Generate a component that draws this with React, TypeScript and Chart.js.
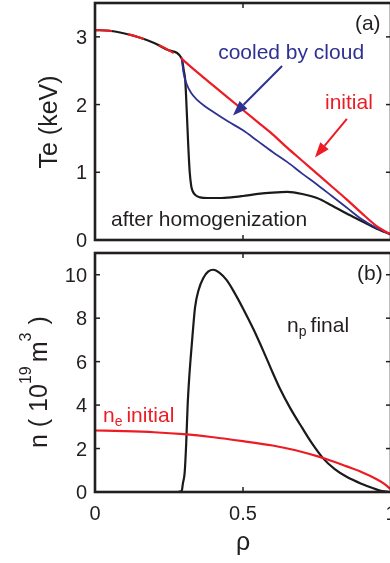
import React, { useEffect, useRef } from 'react';
import { Chart, registerables } from 'chart.js';

Chart.register(...registerables);

// ---------- data (panel a: electron temperature, keV) ----------
const teInitialRho = [0, 0.05, 0.1, 0.15, 0.2, 0.25, 0.29, 0.3, 0.35, 0.4, 0.45, 0.5, 0.55, 0.6, 0.65, 0.7, 0.75, 0.8, 0.85, 0.9, 0.95, 0.975, 1.0];
const teInitial = [3.1, 3.09, 3.05, 2.99, 2.91, 2.8, 2.69, 2.65, 2.46, 2.28, 2.1, 1.92, 1.74, 1.56, 1.36, 1.17, 0.98, 0.79, 0.6, 0.4, 0.21, 0.14, 0.08];

const teCooledRho = [0.293, 0.3, 0.31, 0.325, 0.345, 0.37, 0.4, 0.45, 0.5, 0.55, 0.6, 0.65, 0.7, 0.75, 0.8, 0.85, 0.9, 0.95, 1.0];
const teCooled = [2.68, 2.45, 2.3, 2.17, 2.07, 1.98, 1.89, 1.75, 1.62, 1.46, 1.3, 1.15, 0.98, 0.82, 0.65, 0.48, 0.31, 0.18, 0.08];

const teAfterRho = [0, 0.05, 0.1, 0.15, 0.2, 0.25, 0.293, 0.3, 0.305, 0.31, 0.315, 0.32, 0.325, 0.33, 0.34, 0.355, 0.38, 0.42, 0.46, 0.5, 0.55, 0.6, 0.65, 0.7, 0.75, 0.8, 0.85, 0.9, 0.95, 1.0];
const teAfter = [3.1, 3.09, 3.05, 2.99, 2.91, 2.8, 2.68, 2.5, 2.35, 1.9, 1.4, 1.0, 0.8, 0.72, 0.66, 0.63, 0.62, 0.62, 0.63, 0.65, 0.68, 0.7, 0.71, 0.68, 0.62, 0.51, 0.39, 0.28, 0.17, 0.08];

// ---------- data (panel b: density, 1e19 m^-3) ----------
const neRho = [0, 0.1, 0.2, 0.3, 0.4, 0.5, 0.6, 0.65, 0.7, 0.75, 0.8, 0.85, 0.9, 0.95, 0.975, 1.0];
const neInitial = [2.83, 2.8, 2.75, 2.66, 2.52, 2.34, 2.14, 2.0, 1.84, 1.65, 1.43, 1.18, 0.92, 0.6, 0.4, 0.12];

const npRho = [0, 0.1, 0.2, 0.28, 0.293, 0.297, 0.303, 0.308, 0.313, 0.318, 0.324, 0.33, 0.338, 0.35, 0.366, 0.383, 0.4, 0.42, 0.445, 0.47, 0.5, 0.535, 0.57, 0.6, 0.625, 0.66, 0.7, 0.735, 0.77, 0.81, 0.85, 0.9, 0.94, 0.97, 1.0];
const npFinal = [0, 0, 0, 0, 0.05, 0.4, 0.9, 2.2, 4.0, 5.2, 6.3, 7.3, 8.5, 9.3, 9.85, 10.15, 10.23, 10.1, 9.75, 9.2, 8.45, 7.5, 6.45, 5.5, 4.75, 3.85, 2.95, 2.2, 1.56, 1.05, 0.7, 0.38, 0.17, 0.04, 0];

// ---------- ticks ----------
const rhoTicks = [0, 0.5, 1];
const rhoTickLabels = ['0', '0.5', '1'];
const teTicks = [0, 1, 2, 3];
const nTicks = [0, 2, 4, 6, 8, 10];

const RED = '#ed1c24';
const BLUE = '#2e3192';
const BLACK = '#1a1a1a';
const TEXT = '#231f20';
const FONT = '"Liberation Sans", Arial, Helvetica, sans-serif';
const TICK = 5;

const pts = (xs: number[], ys: number[]) => xs.map((x, i) => ({ x, y: ys[i] }));

type Note = { parts: { t: string; sub?: boolean }[]; x: number; y: number; color: string };
type Arrow = { x0: number; y0: number; x1: number; y1: number; color: string };

function overlay(cfg: {
  id: string;
  yTicks: number[];
  xLabels: boolean;
  notes: Note[];
  arrows: Arrow[];
  title: (ctx: CanvasRenderingContext2D) => void;
}) {
  return {
    id: cfg.id,
    afterDatasetsDraw(chart: any) {
      const { ctx, chartArea: a, scales } = chart;
      const xs = scales.x, ys = scales.y;
      ctx.save();
      const line = (x0: number, y0: number, x1: number, y1: number) => {
        ctx.beginPath(); ctx.moveTo(x0, y0); ctx.lineTo(x1, y1); ctx.stroke();
      };
      ctx.strokeStyle = TEXT;
      ctx.lineWidth = 1.5;
      for (const v of rhoTicks) {
        const px = xs.getPixelForValue(v);
        line(px, a.top, px, a.top + TICK);
        line(px, a.bottom, px, a.bottom - TICK);
      }
      for (const v of cfg.yTicks) {
        const py = ys.getPixelForValue(v);
        line(a.left, py, a.left + TICK, py);
        line(a.right, py, a.right - TICK, py);
      }
      ctx.lineWidth = 2.6;
      ctx.strokeRect(a.left, a.top, a.right - a.left, a.bottom - a.top);

      // tick labels
      ctx.fillStyle = TEXT;
      ctx.font = `20px ${FONT}`;
      ctx.textAlign = 'right';
      ctx.textBaseline = 'alphabetic';
      for (const v of cfg.yTicks) {
        ctx.fillText(String(v), a.left - 8, ys.getPixelForValue(v) + 7);
      }
      if (cfg.xLabels) {
        ctx.textAlign = 'center';
        rhoTicks.forEach((v, i) => ctx.fillText(rhoTickLabels[i], xs.getPixelForValue(v), a.bottom + 28));
        ctx.font = `25px ${FONT}`;
        ctx.fillText('ρ', xs.getPixelForValue(0.5), a.bottom + 58);
      }

      // annotations
      ctx.textAlign = 'left';
      for (const n of cfg.notes) {
        let x = xs.getPixelForValue(n.x);
        const y = ys.getPixelForValue(n.y);
        ctx.fillStyle = n.color;
        n.parts.forEach((p, i) => {
          ctx.font = p.sub ? `14px ${FONT}` : `21px ${FONT}`;
          ctx.fillText(p.t, x, p.sub ? y + 4 : y);
          x += ctx.measureText(p.t).width + (p.sub ? 4 : 0);
        });
      }
      for (const ar of cfg.arrows) {
        const x0 = xs.getPixelForValue(ar.x0), y0 = ys.getPixelForValue(ar.y0);
        const x1 = xs.getPixelForValue(ar.x1), y1 = ys.getPixelForValue(ar.y1);
        const ang = Math.atan2(y1 - y0, x1 - x0);
        const L = 15, W = 5.5;
        const bx = x1 - L * Math.cos(ang), by = y1 - L * Math.sin(ang);
        ctx.strokeStyle = ar.color;
        ctx.fillStyle = ar.color;
        ctx.lineWidth = 2;
        line(x0, y0, bx, by);
        ctx.beginPath();
        ctx.moveTo(x1, y1);
        ctx.lineTo(bx + W * Math.sin(ang), by - W * Math.cos(ang));
        ctx.lineTo(bx - W * Math.sin(ang), by + W * Math.cos(ang));
        ctx.closePath();
        ctx.fill();
      }
      cfg.title(ctx);
      ctx.restore();
    },
  };
}

const baseOptions = (ymax: number, padBottom: number, padTop: number) => ({
  responsive: false,
  animation: false as const,
  layout: { padding: { left: 95, right: 5, top: padTop, bottom: padBottom } },
  scales: {
    x: { type: 'linear' as const, min: 0, max: 1, display: false },
    y: { type: 'linear' as const, min: 0, max: ymax, display: false },
  },
  plugins: { legend: { display: false }, tooltip: { enabled: false } },
  elements: { point: { radius: 0 }, line: { cubicInterpolationMode: 'monotone' as const } },
});

export default function App() {
  const topRef = useRef<HTMLCanvasElement>(null);
  const botRef = useRef<HTMLCanvasElement>(null);

  useEffect(() => {
    const topChart = new Chart(topRef.current!, {
      type: 'line',
      data: {
        datasets: [
          {
            data: pts(teInitialRho, teInitial), borderColor: RED, borderWidth: 2.2,
            segment: { borderDash: (c: any) => (c.p1.parsed.x <= 0.29 ? [17, 16] : undefined) },
          },
          { data: pts(teCooledRho, teCooled), borderColor: BLUE, borderWidth: 1.8 },
          { data: pts(teAfterRho, teAfter), borderColor: BLACK, borderWidth: 2.2 },
        ],
      } as any,
      options: baseOptions(3.5, 8, 3) as any,
      plugins: [
        overlay({
          id: 'ovA',
          yTicks: teTicks,
          xLabels: false,
          notes: [
            { parts: [{ t: 'cooled by cloud' }], x: 0.416, y: 2.68, color: BLUE },
            { parts: [{ t: 'initial' }], x: 0.777, y: 1.94, color: RED },
            { parts: [{ t: '(a)' }], x: 0.878, y: 3.1, color: TEXT },
            { parts: [{ t: 'after homogenization' }], x: 0.054, y: 0.206, color: TEXT },
          ],
          arrows: [
            { x0: 0.632, y0: 2.57, x1: 0.466, y1: 1.84, color: BLUE },
            { x0: 0.851, y0: 1.79, x1: 0.743, y1: 1.22, color: RED },
          ],
          title: (ctx) => {
            ctx.save();
            ctx.translate(57, 122);
            ctx.rotate(-Math.PI / 2);
            ctx.fillStyle = TEXT;
            ctx.font = `25px ${FONT}`;
            ctx.textAlign = 'center';
            ctx.textBaseline = 'alphabetic';
            ctx.fillText('Te (keV)', 0, 0);
            ctx.restore();
          },
        }),
      ],
    });

    const botChart = new Chart(botRef.current!, {
      type: 'line',
      data: {
        datasets: [
          { data: pts(neRho, neInitial), borderColor: RED, borderWidth: 2.2 },
          { data: pts(npRho, npFinal), borderColor: BLACK, borderWidth: 2.2 },
        ],
      } as any,
      options: baseOptions(11, 71, 5) as any,
      plugins: [
        overlay({
          id: 'ovB',
          yTicks: nTicks,
          xLabels: true,
          notes: [
            { parts: [{ t: '(b)' }], x: 0.885, y: 9.77, color: TEXT },
            { parts: [{ t: 'n' }, { t: 'p', sub: true }, { t: 'final' }], x: 0.649, y: 7.37, color: TEXT },
            { parts: [{ t: 'n' }, { t: 'e', sub: true }, { t: 'initial' }], x: 0.027, y: 3.23, color: RED },
          ],
          arrows: [],
          title: (ctx) => {
            ctx.save();
            ctx.translate(47, 200);
            ctx.rotate(-Math.PI / 2);
            ctx.fillStyle = TEXT;
            ctx.textAlign = 'left';
            ctx.textBaseline = 'alphabetic';
            let x = 0;
            const main = (t: string) => { ctx.font = `25px ${FONT}`; ctx.fillText(t, x, 0); x += ctx.measureText(t).width; };
            const sup = (t: string) => { ctx.font = `16px ${FONT}`; ctx.fillText(t, x, -16); x += ctx.measureText(t).width; };
            main('n ( 10');
            sup('19');
            x += 4;
            main('m');
            sup('3');
            x += 8;
            main(')');
            ctx.restore();
          },
        }),
      ],
    });

    return () => {
      topChart.destroy();
      botChart.destroy();
    };
  }, []);

  return (
    <div style={{ position: 'absolute', left: 0, top: 0, width: 390, height: 563, overflow: 'hidden', background: '#fff' }}>
      <canvas ref={topRef} width={396} height={248} style={{ position: 'absolute', left: 0, top: 0, width: 396, height: 248 }} />
      <canvas ref={botRef} width={396} height={315} style={{ position: 'absolute', left: 0, top: 248, width: 396, height: 315 }} />
    </div>
  );
}
